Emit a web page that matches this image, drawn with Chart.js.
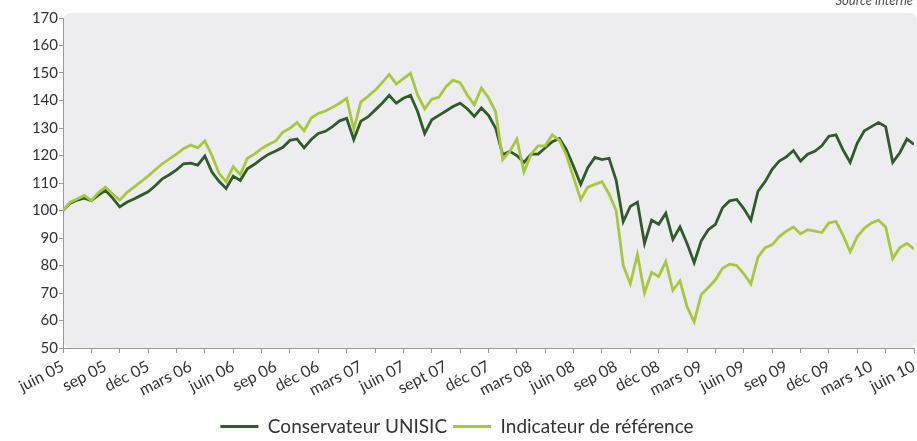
<!DOCTYPE html>
<html>
<head>
<meta charset="utf-8">
<script src="https://cdn.jsdelivr.net/npm/chart.js@4.4.1/dist/chart.umd.min.js"></script>
<style>
    html, body { margin: 0; padding: 0; background: #fff; }
    #wrap { width: 917px; height: 441px; }
</style>
</head>
<body>
<div id="wrap"><canvas id="perfChart"></canvas></div>
<script>
// quarter labels, one every 3 months starting juin 05
const tickLabels = ["juin 05", "sep 05", "déc 05", "mars 06", "juin 06", "sep 06", "déc 06",
    "mars 07", "juin 07", "sept 07", "déc 07", "mars 08", "juin 08", "sep 08", "déc 08",
    "mars 09", "juin 09", "sep 09", "déc 09", "mars 10", "juin 10"]

// values read every half month from juin 05 to juin 10
const unisic = [
    100, 102.6, 103.8, 104.5, 103.6, 105.6, 107.3, 104.5, 101.3, 103,
    104.2, 105.5, 106.8, 109, 111.5, 113, 114.8, 117, 117.2, 116.5,
    119.8, 114, 110.6, 108, 112.5, 110.9, 115.2, 116.8, 118.8, 120.5,
    121.6, 123, 125.5, 126, 122.8, 125.8, 128, 128.8, 130.5, 132.6,
    133.5, 125.8, 132.5, 134, 136.5, 139, 141.9, 139, 140.8, 141.9,
    136, 128, 133, 134.6, 136.2, 137.8, 139, 137, 134.2, 137.3,
    134.6, 130, 120.3, 121.5, 120, 117.5, 120.5, 120.5, 122.8, 125,
    126.2, 122, 116, 109.5, 115.6, 119.3, 118.5, 119, 111, 96,
    101.5, 103, 88, 96.5, 95, 99, 89.5, 94, 88, 81,
    89, 93, 95, 101, 103.5, 104, 100.7, 96.5, 107, 110.5,
    115, 118, 119.5, 121.8, 118, 120.5, 121.5, 123.5, 127, 127.5,
    122, 117.5, 124.5, 129, 130.5, 132, 130.5, 117.5, 121, 126,
    124
]
const reference = [
    100, 103, 104.2, 105.5, 103.6, 106.5, 108.5, 106, 103.8, 106.5,
    108.5, 110.5, 112.5, 114.8, 117, 118.8, 120.5, 122.5, 123.8, 122.8,
    125.3, 120, 113.5, 110.5, 116, 113, 119, 120.5, 122.5, 124,
    125.3, 128.5, 129.9, 132, 129, 133.6, 135.3, 136.2, 137.5, 139,
    140.8, 129.5, 139.5, 141.5, 143.7, 146.5, 149.5, 146, 148, 149.9,
    142, 137, 140.5, 141.2, 145, 147.4, 146.5, 142, 138.5, 144.5,
    141, 136, 118.5, 121.5, 126, 114, 120.5, 123.5, 123.5, 127.5,
    125.5, 120, 112, 104, 108.5, 109.5, 110.5, 106, 100, 80,
    73.3, 84, 70, 77.5, 76, 81.5, 71, 74.4, 65, 59.5,
    69.5, 72, 74.8, 79, 80.5, 80, 77, 73.3, 83, 86.5,
    87.5, 90.5, 92.5, 94, 91.5, 93, 92.5, 92, 95.5, 96,
    91, 85, 90.5, 93.5, 95.5, 96.5, 94, 82.5, 86.5, 88,
    86
]
const step = 0.5 // months between two values
const months = unisic.map((v, i) => i * step)

const fontFamily = "Lato, 'Open Sans', sans-serif"
const textColor = "#333"
const axisColor = "#9a9a9a"

function toPoints(values) {
    return values.map((v, i) => ({ x: months[i], y: v }))
}

// light grey rounded plot background, slightly bigger than the axes
const plotBackground = {
    id: "plotBackground",
    beforeDraw(chart) {
        const { ctx, chartArea } = chart
        ctx.save()
        ctx.fillStyle = "#ededf0"
        ctx.beginPath()
        ctx.roundRect(chartArea.left, chartArea.top - 5, chartArea.width + 3, chartArea.height + 5, 8)
        ctx.fill()
        ctx.restore()
    }
}

const sourceNote = {
    id: "sourceNote",
    afterDraw(chart) {
        const ctx = chart.ctx
        ctx.save()
        ctx.font = "italic 13px " + fontFamily
        ctx.fillStyle = "#555"
        ctx.textAlign = "right"
        ctx.textBaseline = "alphabetic"
        ctx.fillText("Source interne", chart.width - 4, 5)
        ctx.restore()
    }
}

new Chart(document.getElementById("perfChart"), {
    type: "line",
    data: {
        datasets: [
            {
                label: "Conservateur UNISIC",
                data: toPoints(unisic),
                borderColor: "#2f5a2a",
                backgroundColor: "#2f5a2a",
                borderWidth: 2.8,
                order: 2
            },
            {
                label: "Indicateur de référence",
                data: toPoints(reference),
                borderColor: "#a8c73e",
                backgroundColor: "#a8c73e",
                borderWidth: 2.8,
                order: 1
            }
        ]
    },
    options: {
        responsive: true,
        maintainAspectRatio: false,
        animation: false,
        layout: { padding: { top: 18, right: 3, bottom: -5, left: 0 } },
        elements: {
            point: { radius: 0 },
            line: { tension: 0 }
        },
        scales: {
            x: {
                type: "linear",
                position: "bottom",
                min: 0,
                max: 60,
                ticks: { display: false, stepSize: 2 },
                grid: { drawOnChartArea: false, tickLength: 5, color: axisColor },
                border: { color: axisColor }
            },
            xLabels: {
                type: "linear",
                position: "bottom",
                min: 0,
                max: 60,
                grid: { display: false, drawTicks: false },
                border: { display: false },
                ticks: {
                    stepSize: 3,
                    autoSkip: false,
                    minRotation: 27,
                    maxRotation: 27,
                    padding: 4,
                    color: textColor,
                    font: { family: fontFamily, size: 16 },
                    callback: (v) => tickLabels[v / 3]
                },
                afterFit(scale) {
                    scale.height = 58
                    scale.paddingLeft = 0
                    scale.paddingRight = 0
                }
            },
            y: {
                min: 50,
                max: 170,
                ticks: {
                    stepSize: 10,
                    padding: 1,
                    color: textColor,
                    font: { family: fontFamily, size: 15 }
                },
                grid: { drawOnChartArea: false, tickLength: 4, color: axisColor },
                border: { color: axisColor },
                afterFit(scale) {
                    scale.width = 63
                }
            }
        },
        plugins: {
            legend: {
                position: "bottom",
                labels: {
                    usePointStyle: true,
                    pointStyle: "line",
                    pointStyleWidth: 38,
                    padding: 6,
                    color: textColor,
                    font: { family: fontFamily, size: 19 },
                    sort: (a, b) => a.datasetIndex - b.datasetIndex
                }
            },
            tooltip: { enabled: false }
        }
    },
    plugins: [plotBackground, sourceNote]
})
</script>
</body>
</html>
